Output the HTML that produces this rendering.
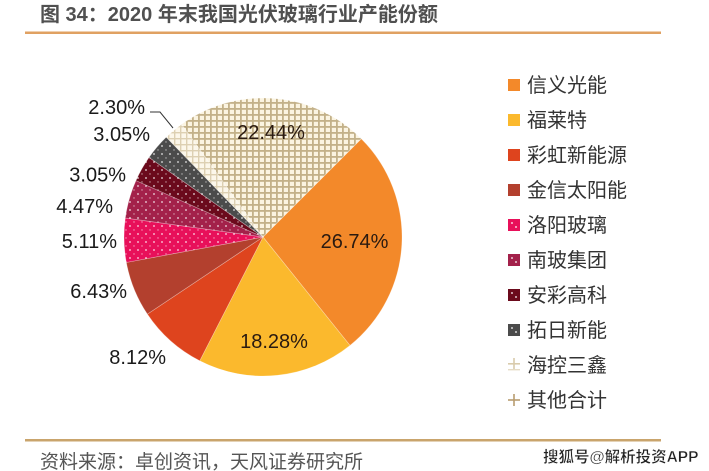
<!DOCTYPE html>
<html>
<head>
<meta charset="utf-8">
<style>
  html,body{margin:0;padding:0;background:#fff;}
  svg{display:block;}
  text{font-family:"Liberation Sans","Noto Sans CJK SC",sans-serif;}
</style>
</head>
<body>
<svg width="709" height="471" viewBox="0 0 709 471" xmlns="http://www.w3.org/2000/svg">
  <defs>
    <pattern id="grid" width="6" height="6" patternUnits="userSpaceOnUse">
      <rect width="6" height="6" fill="#fbf4e1"/>
      <rect x="0" y="0" width="1.8" height="6" fill="#c3b189"/>
      <rect x="0" y="0" width="6" height="1.8" fill="#c3b189"/>
    </pattern>
    <pattern id="grid2" width="6" height="6" patternUnits="userSpaceOnUse">
      <rect width="6" height="6" fill="#fcf7ea"/>
      <rect x="0" y="0" width="1.4" height="6" fill="#ddd0b2"/>
      <rect x="0" y="0" width="6" height="1.4" fill="#ddd0b2"/>
    </pattern>
    <pattern id="dLuo" width="8" height="8" patternUnits="userSpaceOnUse">
      <rect width="8" height="8" fill="#e8105a"/>
      <circle cx="2" cy="2" r="0.9" fill="#fff" fill-opacity="0.85"/>
      <circle cx="6" cy="6" r="0.7" fill="#fff" fill-opacity="0.6"/>
    </pattern>
    <pattern id="dNan" width="8" height="8" patternUnits="userSpaceOnUse">
      <rect width="8" height="8" fill="#a3214a"/>
      <circle cx="2" cy="2" r="0.9" fill="#fff" fill-opacity="0.85"/>
      <circle cx="6" cy="6" r="0.7" fill="#fff" fill-opacity="0.6"/>
    </pattern>
    <pattern id="dAn" width="8" height="8" patternUnits="userSpaceOnUse">
      <rect width="8" height="8" fill="#6b0a1c"/>
      <circle cx="2" cy="2" r="0.9" fill="#fff" fill-opacity="0.85"/>
      <circle cx="6" cy="6" r="0.7" fill="#fff" fill-opacity="0.6"/>
    </pattern>
    <pattern id="dTuo" width="8" height="8" patternUnits="userSpaceOnUse">
      <rect width="8" height="8" fill="#4b4b4b"/>
      <circle cx="2" cy="2" r="0.9" fill="#fff" fill-opacity="0.85"/>
      <circle cx="6" cy="6" r="0.7" fill="#fff" fill-opacity="0.6"/>
    </pattern>
  </defs>

  <!-- Title -->
  <text x="40" y="21" font-size="20" font-weight="bold" fill="#505050">图 34：2020 年末我国光伏玻璃行业产能份额</text>
  <rect x="25" y="31.5" width="636" height="2.5" fill="#e0a162"/>

  <!-- Pie -->
  <g stroke="#ffffff" stroke-opacity="0.35" stroke-width="0.7">
    <path d="M263,237 L361.29,138.71 A139,139 0 0 1 349.96,345.45 Z" fill="#f3892a"/>
    <path d="M263,237 L349.96,345.45 A139,139 0 0 1 199.74,360.77 Z" fill="#fbb92d"/>
    <path d="M263,237 L199.74,360.77 A139,139 0 0 1 147.35,314.12 Z" fill="#de441e"/>
    <path d="M263,237 L147.35,314.12 A139,139 0 0 1 126.35,262.45 Z" fill="#b3402e"/>
    <path d="M263,237 L126.35,262.45 A139,139 0 0 1 125.31,218.03 Z" fill="url(#dLuo)"/>
    <path d="M263,237 L125.31,218.03 A139,139 0 0 1 135.95,180.59 Z" fill="url(#dNan)"/>
    <path d="M263,237 L135.95,180.59 A139,139 0 0 1 149.03,157.42 Z" fill="url(#dAn)"/>
    <path d="M263,237 L149.03,157.42 A139,139 0 0 1 166.24,137.18 Z" fill="url(#dTuo)"/>
    <path d="M263,237 L166.24,137.18 A139,139 0 0 1 181.66,124.30 Z" fill="url(#grid2)"/>
    <path d="M263,237 L181.66,124.30 A139,139 0 0 1 361.29,138.71 Z" fill="url(#grid)"/>
  </g>

  <!-- Leader line -->
  <polyline points="150,112 160,112 173,128" fill="none" stroke="#333" stroke-width="1"/>

  <!-- Labels -->
  <g font-size="20" fill="#1a1a1a">
    <text x="271" y="139" text-anchor="middle" fill="#2a1a10">22.44%</text>
    <text x="354.5" y="248" text-anchor="middle" fill="#2a1a10">26.74%</text>
    <text x="274" y="348" text-anchor="middle" fill="#2a1a10">18.28%</text>
    <text x="145" y="114" text-anchor="end">2.30%</text>
    <text x="150" y="141" text-anchor="end">3.05%</text>
    <text x="126" y="181.5" text-anchor="end">3.05%</text>
    <text x="113" y="213" text-anchor="end">4.47%</text>
    <text x="117" y="248" text-anchor="end">5.11%</text>
    <text x="127" y="298" text-anchor="end">6.43%</text>
    <text x="166" y="364" text-anchor="end">8.12%</text>
  </g>

  <!-- Legend -->
  <g>
    <rect x="508" y="79" width="12" height="12" fill="#f3892a"/>
    <rect x="508" y="114" width="12" height="12" fill="#fbb92d"/>
    <rect x="508" y="149" width="12" height="12" fill="#de441e"/>
    <rect x="508" y="184" width="12" height="12" fill="#b3402e"/>
    <rect x="508" y="219" width="12" height="12" fill="#e8105a"/>
    <circle cx="512" cy="223" r="0.9" fill="#fff"/><circle cx="516" cy="227" r="0.9" fill="#fff"/>
    <rect x="508" y="254" width="12" height="12" fill="#a3214a"/>
    <circle cx="512" cy="258" r="0.9" fill="#fff"/><circle cx="516" cy="262" r="0.9" fill="#fff"/>
    <rect x="508" y="289" width="12" height="12" fill="#6b0a1c"/>
    <circle cx="512" cy="293" r="0.9" fill="#fff"/><circle cx="516" cy="297" r="0.9" fill="#fff"/>
    <rect x="508" y="324" width="12" height="12" fill="#4b4b4b"/>
    <circle cx="512" cy="328" r="0.9" fill="#fff"/><circle cx="516" cy="332" r="0.9" fill="#fff"/>
    <!-- 海控三鑫 marker -->
    <rect x="513.2" y="358" width="1.6" height="12" fill="#d9cbac"/>
    <rect x="508" y="363" width="12" height="1.6" fill="#d9cbac"/>
    <rect x="508" y="369" width="12" height="1.4" fill="#e6dcc6"/>
    <!-- 其他合计 marker -->
    <rect x="513.2" y="394" width="1.6" height="12" fill="#b89c70"/>
    <rect x="508" y="399.2" width="12" height="1.6" fill="#b89c70"/>
  </g>
  <g font-size="20" fill="#333">
    <text x="527" y="92">信义光能</text>
    <text x="527" y="127">福莱特</text>
    <text x="527" y="162">彩虹新能源</text>
    <text x="527" y="197">金信太阳能</text>
    <text x="527" y="232">洛阳玻璃</text>
    <text x="527" y="267">南玻集团</text>
    <text x="527" y="302">安彩高科</text>
    <text x="527" y="337">拓日新能</text>
    <text x="527" y="372">海控三鑫</text>
    <text x="527" y="407">其他合计</text>
  </g>

  <!-- Footer -->
  <rect x="25" y="439" width="636" height="2.5" fill="#c9a46c"/>
  <text x="40" y="468" font-size="19" fill="#555">资料来源：卓创资讯，天风证券研究所</text>
  <text x="543" y="462" font-size="15.5" font-weight="bold" fill="#222" stroke="#fff" stroke-width="0.4">搜狐号@解析投资APP</text>
</svg>
</body>
</html>
